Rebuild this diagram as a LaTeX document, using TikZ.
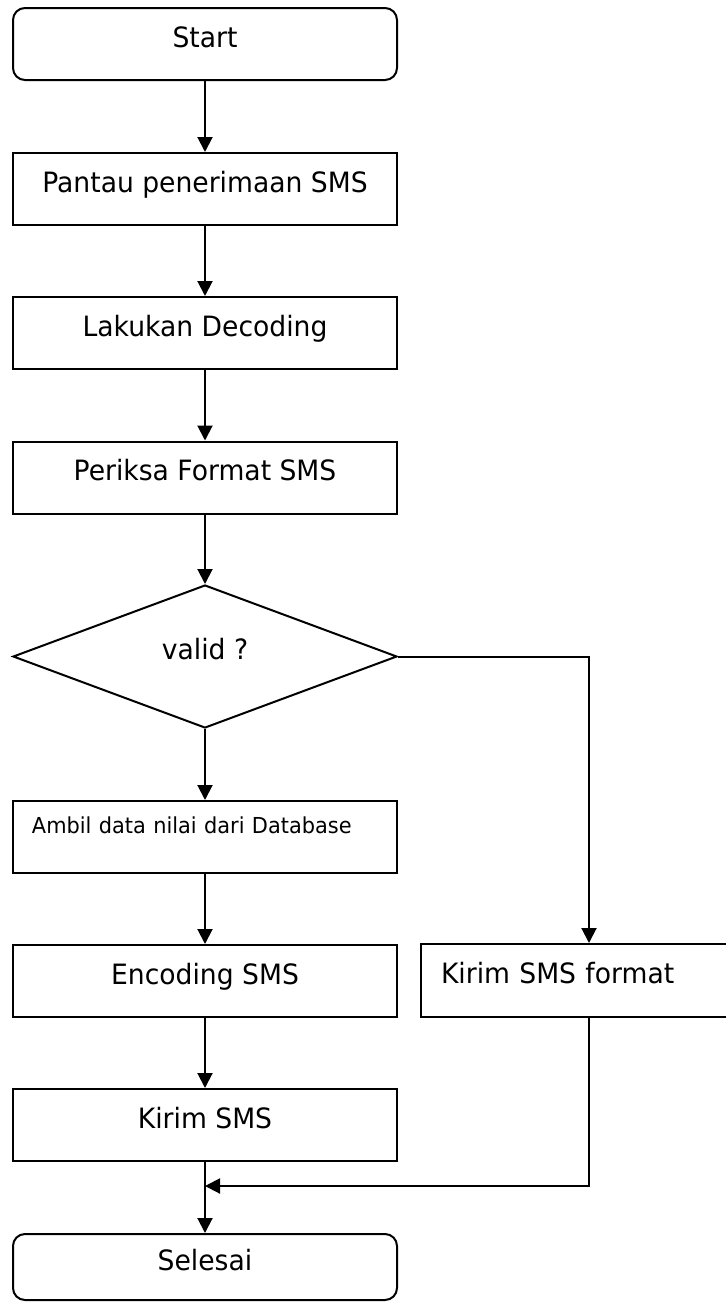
\documentclass[tikz,border=0pt]{standalone}
\usepackage{fontspec}
\setmainfont{DejaVu Sans}
\newfontfamily\flowfont[FakeStretch=0.95]{DejaVu Sans}
\usetikzlibrary{shapes.geometric,arrows.meta}

\begin{document}
\begin{tikzpicture}[x=0.5pt,y=-0.5pt,line width=1pt,
    every node/.style={font=\flowfont\fontsize{14}{16}\selectfont,text height=6.5pt,text depth=3.5pt},
    proses/.style={rectangle,draw,minimum width=192pt,minimum height=36pt,inner sep=0pt},
    terminal/.style={proses,rounded corners=6pt},
    keputusan/.style={diamond,draw,aspect=2.69,minimum width=192pt,minimum height=71.5pt,inner sep=0pt},
    panah/.style={-{Triangle[length=7.5pt,width=7.5pt]}}
]
    \useasboundingbox (0,0) rectangle (725,1302);

    \node[terminal] (start) at (205,44) {Start};
    \node[proses] (pantau) at (205,189) {Pantau penerimaan SMS};
    \node[proses] (decode) at (205,333) {Lakukan Decoding};
    \node[proses] (periksa) at (205,477.5) {Periksa Format SMS};
    \node[keputusan] (valid) at (205,656.5) {valid ?};
    \node[proses,text width=173pt,align=left,inner xsep=9.5pt,
        font=\flowfont\fontsize{11}{13}\selectfont,text height=3pt,text depth=6.7pt] (ambil) at (205,837) {Ambil data nilai dari Database};
    \node[proses] (encode) at (205,981) {Encoding SMS};
    \node[proses,minimum width=153pt,minimum height=36.5pt,text width=133pt,align=left,inner xsep=10pt] (kirimformat) at (574,980.5) {Kirim SMS format};
    \node[proses] (kirim) at (205,1125) {Kirim SMS};
    \node[terminal,minimum height=33pt] (selesai) at (205,1267) {Selesai};

    \coordinate (belok) at (589,656.5);
    \coordinate (gabung) at (589,1186);

    \draw[panah] (start) -- (pantau);
    \draw[panah] (pantau) -- (decode);
    \draw[panah] (decode) -- (periksa);
    \draw[panah] (periksa) -- (valid);
    \draw[panah] (valid) -- (ambil);
    \draw[panah] (ambil) -- (encode);
    \draw[panah] (encode) -- (kirim);
    \draw[panah] (kirim) -- (selesai);
    \draw[panah] (valid.east) -- (belok) -- (belok |- kirimformat.north);
    \draw[panah] (gabung |- kirimformat.south) -- (gabung) -- (gabung -| kirim.south);

\end{tikzpicture}
\end{document}
